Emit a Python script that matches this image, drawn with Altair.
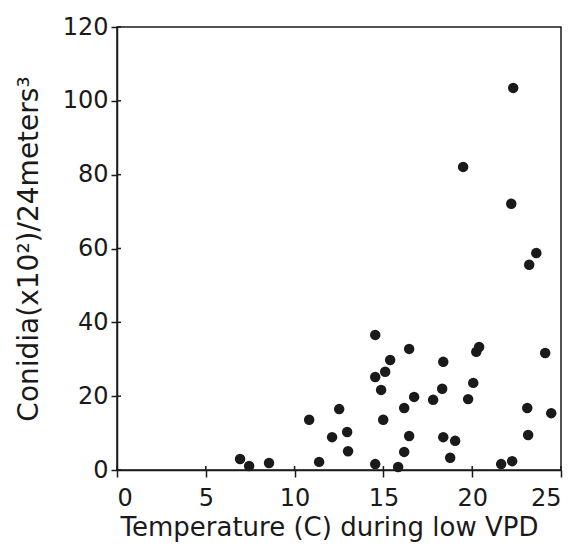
import altair as alt
import pandas as pd

temperature = [6.93, 7.44, 8.56, 10.82, 11.38, 12.11, 12.51, 12.96, 13.01, 14.54,
               14.54, 14.54, 15.10, 15.38, 14.99, 14.87, 16.45, 16.73, 16.17, 16.45,
               16.17, 15.83, 18.37, 18.31, 17.80, 18.37, 19.04, 18.76, 19.77, 20.06,
               20.23, 20.39, 19.49, 22.31, 22.20, 21.63, 22.25, 23.21, 23.61, 24.11,
               23.10, 23.15, 24.45]
conidia = [3.0, 1.1, 1.9, 13.6, 2.2, 8.9, 16.5, 10.3, 5.1, 36.6,
           25.2, 1.6, 26.6, 29.8, 13.6, 21.7, 32.8, 19.8, 16.8, 9.2,
           4.9, 0.8, 29.3, 22.0, 19.0, 8.9, 7.9, 3.3, 19.2, 23.6,
           32.0, 33.3, 82.1, 103.5, 72.1, 1.6, 2.4, 55.6, 58.8, 31.7,
           16.8, 9.5, 15.4]

x_ticks = [0, 5, 10, 15, 20, 25]
y_ticks = [0, 20, 40, 60, 80, 100, 120]

W, H = 444, 443

df = pd.DataFrame({"t": temperature, "c": conidia})
xt = pd.DataFrame({"t": x_ticks})
yt = pd.DataFrame({"c": y_ticks})

FONT = "DejaVu Sans"
INK = "#1a1a1a"

xscale = alt.Scale(domain=[0, 25], nice=False, zero=False)
yscale = alt.Scale(domain=[0, 120], nice=False)

points = alt.Chart(df).mark_circle(size=110, color=INK, opacity=1).encode(
    x=alt.X("t:Q", scale=xscale,
            axis=alt.Axis(values=x_ticks, title="Temperature (C) during low VPD",
                          grid=False, tickSize=7, labelPadding=9,
                          titlePadding=4, titleFontSize=26,
                          titleX=W / 2 - 10)),
    y=alt.Y("c:Q", scale=yscale,
            axis=alt.Axis(values=y_ticks, title="Conidia(x10²)/24meters³",
                          grid=False, tickSize=6, labelPadding=3,
                          titlePadding=19)),
)

inner_x = alt.Chart(xt).mark_rule(color=INK, strokeWidth=1.5).encode(
    x=alt.X("t:Q", scale=xscale),
    y=alt.value(H), y2=alt.value(H - 4),
)
inner_y = alt.Chart(yt).mark_rule(color=INK, strokeWidth=1.5).encode(
    y=alt.Y("c:Q", scale=yscale),
    x=alt.value(0), x2=alt.value(4),
)

chart = alt.layer(points, inner_x, inner_y).properties(
    width=W, height=H,
    background="white",
    autosize=alt.AutoSizeParams(type="none"),
    padding={"left": 109, "top": 19, "right": 8, "bottom": 73},
).configure_view(
    stroke=INK, strokeWidth=1.5
).configure_axis(
    domainColor=INK, domainWidth=1.5, tickColor=INK, tickWidth=1.5,
    labelFont=FONT, labelFontSize=24, labelColor=INK,
    titleFont=FONT, titleFontSize=28, titleFontWeight="normal", titleColor=INK,
)

chart.save("out.html", embed_options={"renderer": "svg", "actions": False})
